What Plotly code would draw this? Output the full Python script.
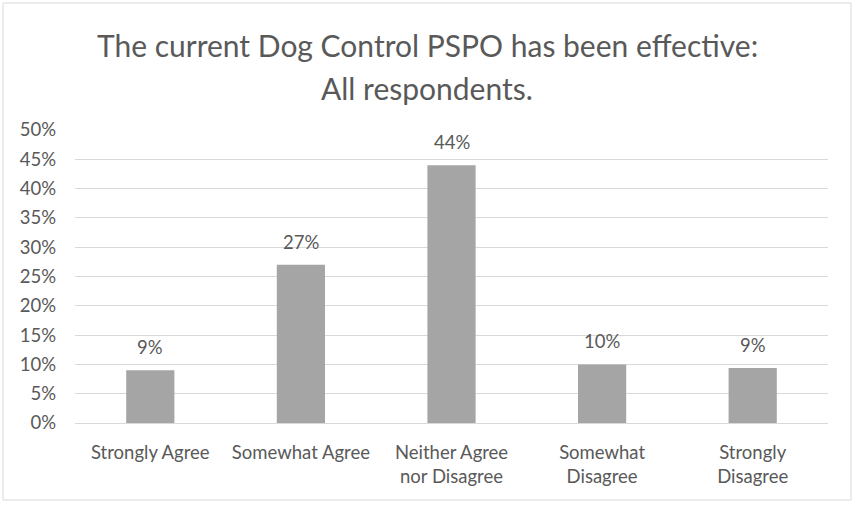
import plotly.graph_objects as go

# Survey responses
categories = ["Strongly Agree", "Somewhat Agree", "Neither Agree<br>nor Disagree",
              "Somewhat<br>Disagree", "Strongly<br>Disagree"]
shares = [0.09, 0.27, 0.44, 0.10, 0.094]
y_ticks = [0, 0.05, 0.10, 0.15, 0.20, 0.25, 0.30, 0.35, 0.40, 0.45, 0.50]

W, H = 857, 507
L, R, T, B = 75, 29, 130, 84
FONT = "Lato"
GREY_TEXT = "#595959"
TICK_SIZE = 18.5

pw, ph = W - L - R, H - T - B
frame_x0, frame_x1 = 3, W - 6
frame_y0, frame_y1 = 3, 500
title_x = ((frame_x0 + frame_x1) / 2 - L) / pw

fig = go.Figure(
    go.Bar(
        x=categories,
        y=shares,
        marker=dict(color="#a5a5a5", line=dict(width=0)),
        hoverinfo="x+y",
    )
)

# Value labels above each bar
for c, v in zip(categories, shares):
    fig.add_annotation(
        x=c, y=v, text=f"{v:.0%}", showarrow=False,
        yanchor="bottom", yshift=10,
        font=dict(family=FONT, size=TICK_SIZE, color=GREY_TEXT),
    )

# Two-line title, centred on the chart frame
fig.add_annotation(
    xref="paper", yref="paper", x=title_x, y=(H - B - 45) / ph,
    text="The current Dog Control PSPO has been effective:",
    showarrow=False, yanchor="middle", xanchor="center",
    font=dict(family=FONT, size=30, color=GREY_TEXT),
)
fig.add_annotation(
    xref="paper", yref="paper", x=title_x, y=(H - B - 88) / ph,
    text="All respondents.",
    showarrow=False, yanchor="middle", xanchor="center",
    font=dict(family=FONT, size=30, color=GREY_TEXT),
)

# Chart-area frame
fig.add_shape(
    type="rect", xref="paper", yref="paper",
    x0=(frame_x0 - L) / pw, x1=(frame_x1 - L) / pw,
    y0=(H - B - frame_y1) / ph, y1=(H - B - frame_y0) / ph,
    line=dict(color="#d9d9d9", width=1), layer="below",
)

fig.update_layout(
    width=W, height=H,
    margin=dict(l=L, r=R, t=T, b=B),
    paper_bgcolor="white", plot_bgcolor="white",
    bargap=0.68,
    showlegend=False,
    font=dict(family=FONT, size=TICK_SIZE, color=GREY_TEXT),
    xaxis=dict(
        showgrid=False, showline=True, linecolor="#d9d9d9", linewidth=1,
        ticks="", ticklabelstandoff=13,
        tickfont=dict(family=FONT, size=TICK_SIZE, color=GREY_TEXT),
        fixedrange=True,
    ),
    yaxis=dict(
        range=[0, 0.5], tickvals=y_ticks, tickformat=".0%",
        showgrid=True, gridcolor="#d9d9d9", gridwidth=1,
        zeroline=False, showline=False, ticks="",
        ticklabelstandoff=18,
        tickfont=dict(family=FONT, size=TICK_SIZE, color=GREY_TEXT),
        fixedrange=True,
    ),
)

fig.write_html("out.html")
